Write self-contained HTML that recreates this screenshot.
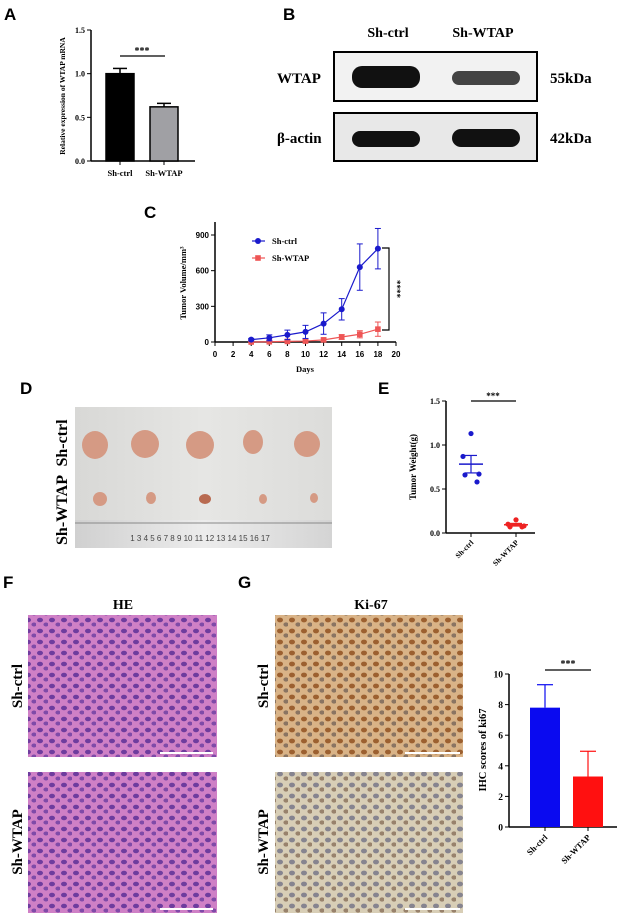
<!DOCTYPE html>
<html><head><meta charset="utf-8">
<style>
html,body{margin:0;padding:0;background:#fff;}
svg{display:block;font-family:"Liberation Serif",serif;}
.pl{font-family:"Liberation Sans",sans-serif;font-weight:bold;font-size:17px;}
.b{font-weight:bold;}
</style></head>
<body>
<svg id="fig" width="622" height="921" viewBox="0 0 622 921" xmlns="http://www.w3.org/2000/svg">
<defs>
<pattern id="hePat" width="12" height="11" patternUnits="userSpaceOnUse">
<rect width="12" height="11" fill="#cf80c6"/>
<ellipse cx="4" cy="4" rx="3" ry="2.3" fill="#6e3c9e"/>
<ellipse cx="10" cy="8.5" rx="2.6" ry="2" fill="#7f4aa8"/>
</pattern>
<pattern id="kiPat" width="12" height="11" patternUnits="userSpaceOnUse">
<rect width="12" height="11" fill="#d9b387"/>
<ellipse cx="4" cy="4" rx="3" ry="2.4" fill="#9c6030"/>
<ellipse cx="10" cy="8.5" rx="2.6" ry="2.1" fill="#8a7462"/>
</pattern>
<pattern id="ki2Pat" width="12" height="11" patternUnits="userSpaceOnUse">
<rect width="12" height="11" fill="#d8ceb6"/>
<ellipse cx="4" cy="4" rx="3" ry="2.4" fill="#86848f"/>
<ellipse cx="10" cy="8.5" rx="2.6" ry="2.1" fill="#98826c"/>
</pattern>
<linearGradient id="photoBg" x1="0" y1="0" x2="1" y2="0">
<stop offset="0" stop-color="#d8d8d6"/><stop offset="0.5" stop-color="#e6e6e4"/><stop offset="1" stop-color="#dcdcda"/>
</linearGradient>
<linearGradient id="rulerBg" x1="0" y1="0" x2="1" y2="0">
<stop offset="0" stop-color="#d0d0d0"/><stop offset="0.5" stop-color="#ececec"/><stop offset="1" stop-color="#d4d4d4"/>
</linearGradient>
</defs>

<!-- Panel labels -->
<text class="pl" x="4" y="20">A</text>
<text class="pl" x="283" y="20">B</text>
<text class="pl" x="144" y="218">C</text>
<text class="pl" x="20" y="394">D</text>
<text class="pl" x="378" y="394">E</text>
<text class="pl" x="3" y="588">F</text>
<text class="pl" x="238" y="588">G</text>

<!-- Panel B western blot -->
<g>
<text class="b" x="388" y="37" font-size="14" text-anchor="middle">Sh-ctrl</text>
<text class="b" x="483" y="37" font-size="14" text-anchor="middle">Sh-WTAP</text>
<text class="b" x="277" y="83" font-size="15">WTAP</text>
<text class="b" x="277" y="143" font-size="15">β-actin</text>
<text class="b" x="550" y="83" font-size="15">55kDa</text>
<text class="b" x="550" y="143" font-size="15">42kDa</text>
<rect x="334" y="52" width="203" height="49" fill="#f2f2f2" stroke="#000" stroke-width="2"/>
<rect x="352" y="66" width="68" height="22" rx="10" fill="#111"/>
<rect x="452" y="71" width="68" height="14" rx="7" fill="#444"/>
<rect x="334" y="113" width="203" height="48" fill="#e8e8e8" stroke="#000" stroke-width="2"/>
<rect x="352" y="131" width="68" height="16" rx="8" fill="#111"/>
<rect x="452" y="129" width="68" height="18" rx="9" fill="#111"/>
</g>

<!-- Panel D photo -->
<g>
<rect x="75" y="407" width="257" height="141" fill="url(#photoBg)"/>
<rect x="75" y="520" width="257" height="28" fill="url(#rulerBg)"/>
<line x1="75" y1="523" x2="332" y2="523" stroke="#888" stroke-width="1"/>
<text x="200" y="541" font-size="8" fill="#444" text-anchor="middle" font-family="Liberation Sans, sans-serif">1  3  4  5  6  7  8  9  10  11  12  13  14  15  16  17</text>
<g fill="#d59a84">
<ellipse cx="95" cy="445" rx="13" ry="14"/><ellipse cx="145" cy="444" rx="14" ry="14"/>
<ellipse cx="200" cy="445" rx="14" ry="14"/><ellipse cx="253" cy="442" rx="10" ry="12"/><ellipse cx="307" cy="444" rx="13" ry="13"/>
<ellipse cx="100" cy="499" rx="7" ry="7"/><ellipse cx="151" cy="498" rx="5" ry="6"/>
<ellipse cx="205" cy="499" rx="6" ry="5" fill="#b86a50"/><ellipse cx="263" cy="499" rx="4" ry="5"/><ellipse cx="314" cy="498" rx="4" ry="5"/>
</g>
<text class="b" font-size="16" transform="translate(67,443) rotate(-90)" text-anchor="middle">Sh-ctrl</text>
<text class="b" font-size="16" transform="translate(67,510) rotate(-90)" text-anchor="middle">Sh-WTAP</text>
</g>

<!-- Panel F / G histology -->
<text class="b" x="123" y="609" font-size="14" text-anchor="middle">HE</text>
<text class="b" x="371" y="609" font-size="14" text-anchor="middle">Ki-67</text>
<rect x="28" y="615" width="189" height="142" fill="url(#hePat)"/>
<rect x="28" y="772" width="189" height="141" fill="url(#hePat)"/>
<rect x="275" y="615" width="188" height="142" fill="url(#kiPat)"/>
<rect x="275" y="772" width="188" height="141" fill="url(#ki2Pat)"/>
<g stroke="#fff" stroke-width="2"><line x1="160" y1="753" x2="213" y2="753"/><line x1="160" y1="909" x2="213" y2="909"/><line x1="405" y1="753" x2="460" y2="753"/><line x1="405" y1="909" x2="460" y2="909"/></g>
<text class="b" font-size="15" transform="translate(22,686) rotate(-90)" text-anchor="middle">Sh-ctrl</text>
<text class="b" font-size="15" transform="translate(22,842) rotate(-90)" text-anchor="middle">Sh-WTAP</text>
<text class="b" font-size="15" transform="translate(268,686) rotate(-90)" text-anchor="middle">Sh-ctrl</text>
<text class="b" font-size="15" transform="translate(268,842) rotate(-90)" text-anchor="middle">Sh-WTAP</text>

<g id="chartA"></g>
<g id="chartC"></g>
<g id="chartE"></g>
<g id="chartG"></g>
</svg>

<script>
// ---- Panel A data
const aCategories = ["Sh-ctrl", "Sh-WTAP"];
const aValues = [1.0, 0.62];
const aErrors = [0.06, 0.04];
const aTicks = [0.0, 0.5, 1.0, 1.5];
// ---- Panel C data
const cDays = [4, 6, 8, 10, 12, 14, 16, 18];
const cCtrl = [20, 35, 60, 85, 155, 275, 630, 785];
const cCtrlErr = [10, 25, 40, 55, 90, 90, 195, 170];
const cWtap = [0, 2, 5, 8, 18, 42, 65, 108];
const cWtapErr = [5, 8, 10, 12, 15, 20, 30, 60];
const cYTicks = [0, 300, 600, 900];
const cXTicks = [0, 2, 4, 6, 8, 10, 12, 14, 16, 18, 20];
// ---- Panel E data
const eCategories = ["Sh-ctrl", "Sh-WTAP"];
const eCtrlPoints = [1.13, 0.87, 0.67, 0.66, 0.58];
const eWtapPoints = [0.15, 0.10, 0.08, 0.07, 0.07];
const eTicks = [0.0, 0.5, 1.0, 1.5];
// ---- Panel G data
const gCategories = ["Sh-ctrl", "Sh-WTAP"];
const gValues = [7.8, 3.3];
const gErrors = [1.5, 1.65];
const gTicks = [0, 2, 4, 6, 8, 10];

const NS = "http://www.w3.org/2000/svg";
function mk(parent, tag, attrs, text) {
  const e = document.createElementNS(NS, tag);
  for (const k in attrs) e.setAttribute(k, attrs[k]);
  if (text !== undefined) e.textContent = text;
  parent.appendChild(e);
  return e;
}
function lin(d0, d1, r0, r1) { return v => r0 + (v - d0) * (r1 - r0) / (d1 - d0); }
function mean(a) { return a.reduce((s, v) => s + v, 0) / a.length; }
function sem(a) { const m = mean(a); return Math.sqrt(a.reduce((s, v) => s + (v - m) ** 2, 0) / (a.length - 1)) / Math.sqrt(a.length); }

// ===== Panel A
(function () {
  const g = document.getElementById("chartA");
  const y = lin(0, 1.5, 161, 30);
  const ax = 91;
  const cx = [120, 164];
  const colors = ["#000", "#a0a0a4"];
  let el;
  el = mk(g, "line", { x1: ax, y1: y(1.5), x2: ax, y2: y(0), stroke: "#000", "stroke-width": 1.5 });
  
  
  el = mk(g, "line", { x1: ax, y1: y(0), x2: 195, y2: y(0), stroke: "#000", "stroke-width": 1.5 });
  
  
  aTicks.forEach(t => {
    mk(g, "line", { x1: ax - 4, y1: y(t), x2: ax, y2: y(t), stroke: "#000" });
    el = mk(g, "text", { x: ax - 6, y: y(t) + 3, "font-size": 8, "text-anchor": "end", "font-weight": "bold" }, t.toFixed(1));
    
    
  });
  aValues.forEach((v, i) => {
    el = mk(g, "rect", { x: cx[i] - 14, y: y(v), width: 28, height: y(0) - y(v), fill: colors[i], stroke: "#000", "stroke-width": 1.5 });
    
    
    const top = y(v + aErrors[i]);
    mk(g, "line", { x1: cx[i], y1: y(v), x2: cx[i], y2: top, stroke: "#000", "stroke-width": 1.5 });
    mk(g, "line", { x1: cx[i] - 7, y1: top, x2: cx[i] + 7, y2: top, stroke: "#000", "stroke-width": 1.5 });
    mk(g, "line", { x1: cx[i], y1: y(0), x2: cx[i], y2: y(0) + 4, stroke: "#000" });
    el = mk(g, "text", { x: cx[i], y: 176, "font-size": 8.5, "text-anchor": "middle", "font-weight": "bold" }, aCategories[i]);
    
    
  });
  mk(g, "line", { x1: 120, y1: 56, x2: 165, y2: 56, stroke: "#000", "stroke-width": 1.2 });
  el = mk(g, "text", { x: 142, y: 54, "font-size": 10, "text-anchor": "middle", "font-weight": "bold" }, "***");
  
  
  el = mk(g, "text", { transform: "translate(65,96) rotate(-90)", "font-size": 7.5, "text-anchor": "middle", "font-weight": "bold" }, "Relative expression of WTAP mRNA");
  
  
})();

// ===== Panel C
(function () {
  const g = document.getElementById("chartC");
  const x = lin(0, 20, 215, 396);
  const y = lin(0, 900, 342, 235);
  let el;
  el = mk(g, "line", { x1: 215, y1: 222, x2: 215, y2: 342, stroke: "#000", "stroke-width": 1.5 });
  
  
  el = mk(g, "line", { x1: 215, y1: 342, x2: 396, y2: 342, stroke: "#000", "stroke-width": 1.5 });
  
  
  cYTicks.forEach(t => {
    mk(g, "line", { x1: 211, y1: y(t), x2: 215, y2: y(t), stroke: "#000" });
    el = mk(g, "text", { x: 209, y: y(t) + 3, "font-size": 8, "text-anchor": "end", "font-weight": "bold", "font-family": "Liberation Sans, sans-serif" }, t);
    
    
  });
  cXTicks.forEach(t => {
    mk(g, "line", { x1: x(t), y1: 342, x2: x(t), y2: 346, stroke: "#000" });
    el = mk(g, "text", { x: x(t), y: 357, "font-size": 8, "text-anchor": "middle", "font-weight": "bold", "font-family": "Liberation Sans, sans-serif" }, t);
    
    
  });
  el = mk(g, "text", { x: 305, y: 372, "font-size": 8.5, "text-anchor": "middle", "font-weight": "bold" }, "Days");
  
  
  el = mk(g, "text", { transform: "translate(186,283) rotate(-90)", "font-size": 8.5, "text-anchor": "middle", "font-weight": "bold" }, "Tumor Volume/mm³");
  
  
  function series(vals, errs, color, name, square) {
    const pts = cDays.map((d, i) => x(d) + "," + y(vals[i])).join(" ");
    el = mk(g, "polyline", { points: pts, fill: "none", stroke: color, "stroke-width": 1.2 });
    
    
    cDays.forEach((d, i) => {
      const hi = y(vals[i] + errs[i]), lo = y(Math.max(0, vals[i] - errs[i]));
      mk(g, "line", { x1: x(d), y1: hi, x2: x(d), y2: lo, stroke: color, "stroke-width": 1 });
      mk(g, "line", { x1: x(d) - 3, y1: hi, x2: x(d) + 3, y2: hi, stroke: color, "stroke-width": 1 });
      mk(g, "line", { x1: x(d) - 3, y1: lo, x2: x(d) + 3, y2: lo, stroke: color, "stroke-width": 1 });
      if (square) el = mk(g, "rect", { x: x(d) - 2.8, y: y(vals[i]) - 2.8, width: 5.6, height: 5.6, fill: color });
      else el = mk(g, "circle", { cx: x(d), cy: y(vals[i]), r: 3, fill: color });
      
      
    });
  }
  series(cWtap, cWtapErr, "#ee5555", "sh-wtap", true);
  series(cCtrl, cCtrlErr, "#1a1acc", "sh-ctrl", false);
  // legend
  mk(g, "line", { x1: 252, y1: 241, x2: 265, y2: 241, stroke: "#1a1acc", "stroke-width": 1.2 });
  mk(g, "circle", { cx: 258, cy: 241, r: 3, fill: "#1a1acc" });
  el = mk(g, "text", { x: 272, y: 244, "font-size": 8.5, "font-weight": "bold" }, "Sh-ctrl");
  
  
  mk(g, "line", { x1: 252, y1: 258, x2: 265, y2: 258, stroke: "#ee5555", "stroke-width": 1.2 });
  mk(g, "rect", { x: 255.2, y: 255.2, width: 5.6, height: 5.6, fill: "#ee5555" });
  el = mk(g, "text", { x: 272, y: 261, "font-size": 8.5, "font-weight": "bold" }, "Sh-WTAP");
  
  
  mk(g, "polyline", { points: "382,248 389,248 389,330 382,330", fill: "none", stroke: "#000", "stroke-width": 1.2 });
  el = mk(g, "text", { transform: "translate(394,289) rotate(90)", "font-size": 9, "text-anchor": "middle", "font-weight": "bold" }, "****");
  
  
})();

// ===== Panel E
(function () {
  const g = document.getElementById("chartE");
  const y = lin(0, 1.5, 533, 401);
  const ax = 446, cx = [471, 516];
  let el;
  el = mk(g, "line", { x1: ax, y1: y(1.5), x2: ax, y2: y(0), stroke: "#000", "stroke-width": 1.5 });
  
  
  el = mk(g, "line", { x1: ax, y1: y(0), x2: 535, y2: y(0), stroke: "#000", "stroke-width": 1.5 });
  
  
  eTicks.forEach(t => {
    mk(g, "line", { x1: ax - 4, y1: y(t), x2: ax, y2: y(t), stroke: "#000" });
    el = mk(g, "text", { x: ax - 6, y: y(t) + 3, "font-size": 8, "text-anchor": "end", "font-weight": "bold" }, t.toFixed(1));
    
    
  });
  const groups = [eCtrlPoints, eWtapPoints];
  const cols = ["#1a1acc", "#ee2222"];
  const offs = [0, -8, 8, -6, 6];
  groups.forEach((pts, gi) => {
    const m = mean(pts), s = sem(pts), c = cols[gi];
    pts.forEach((v, i) => {
      el = mk(g, "circle", { cx: cx[gi] + offs[i], cy: y(v), r: 2.6, fill: c });
      
      
    });
    el = mk(g, "line", { x1: cx[gi] - 12, y1: y(m), x2: cx[gi] + 12, y2: y(m), stroke: c, "stroke-width": 1.5 });
    
    
    mk(g, "line", { x1: cx[gi], y1: y(m - s), x2: cx[gi], y2: y(m + s), stroke: c, "stroke-width": 1.2 });
    mk(g, "line", { x1: cx[gi] - 6, y1: y(m + s), x2: cx[gi] + 6, y2: y(m + s), stroke: c, "stroke-width": 1.2 });
    mk(g, "line", { x1: cx[gi] - 6, y1: y(m - s), x2: cx[gi] + 6, y2: y(m - s), stroke: c, "stroke-width": 1.2 });
    mk(g, "line", { x1: cx[gi], y1: y(0), x2: cx[gi], y2: y(0) + 4, stroke: "#000" });
    el = mk(g, "text", { transform: `translate(${cx[gi] + 3},${y(0) + 10}) rotate(-45)`, "font-size": 7.5, "text-anchor": "end", "font-weight": "bold" }, eCategories[gi]);
    
    
  });
  mk(g, "line", { x1: 471, y1: 401, x2: 516, y2: 401, stroke: "#000", "stroke-width": 1.2 });
  el = mk(g, "text", { x: 493, y: 399, "font-size": 9, "text-anchor": "middle", "font-weight": "bold" }, "***");
  
  
  el = mk(g, "text", { transform: "translate(416,467) rotate(-90)", "font-size": 9, "text-anchor": "middle", "font-weight": "bold" }, "Tumor Weight(g)");
  
  
})();

// ===== Panel G bar chart
(function () {
  const g = document.getElementById("chartG");
  const y = lin(0, 10, 827, 674);
  const ax = 509, cx = [545, 588];
  const cols = ["#0a0af0", "#ff1010"];
  let el;
  el = mk(g, "line", { x1: ax, y1: y(10), x2: ax, y2: y(0), stroke: "#000", "stroke-width": 1.5 });
  
  
  el = mk(g, "line", { x1: ax, y1: y(0), x2: 617, y2: y(0), stroke: "#000", "stroke-width": 1.5 });
  
  
  gTicks.forEach(t => {
    mk(g, "line", { x1: ax - 4, y1: y(t), x2: ax, y2: y(t), stroke: "#000" });
    el = mk(g, "text", { x: ax - 6, y: y(t) + 3.5, "font-size": 9.5, "text-anchor": "end", "font-weight": "bold" }, t);
    
    
  });
  gValues.forEach((v, i) => {
    const top = y(v + gErrors[i]);
    mk(g, "line", { x1: cx[i], y1: y(v), x2: cx[i], y2: top, stroke: cols[i], "stroke-width": 1.2 });
    mk(g, "line", { x1: cx[i] - 8, y1: top, x2: cx[i] + 8, y2: top, stroke: cols[i], "stroke-width": 1.2 });
    el = mk(g, "rect", { x: cx[i] - 15, y: y(v), width: 30, height: y(0) - y(v), fill: cols[i] });
    
    
    mk(g, "line", { x1: cx[i], y1: y(0), x2: cx[i], y2: y(0) + 4, stroke: "#000" });
    el = mk(g, "text", { transform: `translate(${cx[i] + 3},${y(0) + 11}) rotate(-45)`, "font-size": 8.5, "text-anchor": "end", "font-weight": "bold" }, gCategories[i]);
    
    
  });
  mk(g, "line", { x1: 545, y1: 670, x2: 591, y2: 670, stroke: "#000", "stroke-width": 1.2 });
  el = mk(g, "text", { x: 568, y: 667, "font-size": 10, "text-anchor": "middle", "font-weight": "bold" }, "***");
  
  
  el = mk(g, "text", { transform: "translate(486,750) rotate(-90)", "font-size": 10.5, "text-anchor": "middle", "font-weight": "bold" }, "IHC scores of ki67");
  
  
})();
</script>
</body></html>
